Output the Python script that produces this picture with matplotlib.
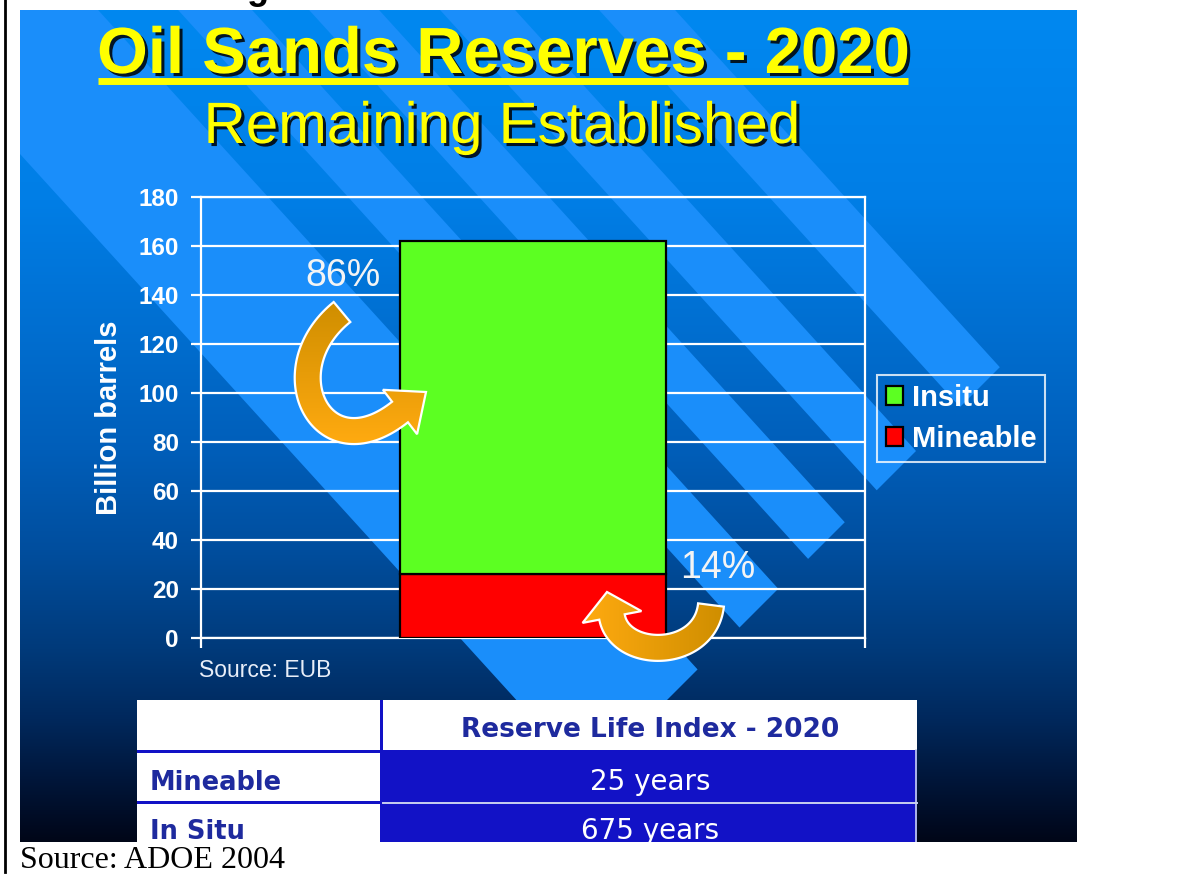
import numpy as np
import matplotlib
matplotlib.use("Agg")
import matplotlib.pyplot as plt
from matplotlib.patches import Polygon, Rectangle, Patch
from matplotlib.lines import Line2D
from matplotlib.colors import to_rgb
import matplotlib.patheffects as pe

# ---------------- data ----------------
category = ["2020"]
insitu = [136.0]          # billion barrels
mineable = [26.0]         # billion barrels
series_labels = ["Insitu", "Mineable"]
share_labels = ["86%", "14%"]
y_ticks = [0, 20, 40, 60, 80, 100, 120, 140, 160, 180]
table_title = "Reserve Life Index - 2020"
table_rows = ["Mineable", "In Situ"]
life_years = [25, 675]

# ---------------- canvas ----------------
W, H = 1182, 876
fig = plt.figure(figsize=(W / 100, H / 100), dpi=100, facecolor="white")
SANS = "Liberation Sans"
GREEN = "#5CFF22"
RED = "#FF0000"
YELLOW = "#FFFF00"


def frect(x0, y0, x1, y1):
    """Pixel box (top-left origin) -> figure fraction rect."""
    return [x0 / W, 1 - y1 / H, (x1 - x0) / W, (y1 - y0) / H]


# slide background, drawn in pixel coordinates
X0, Y0, X1, Y1 = 20, 10, 1077, 842
bg = fig.add_axes(frect(X0, Y0, X1, Y1))
bg.set_xlim(X0, X1)
bg.set_ylim(Y1, Y0)
bg.axis("off")

stops_y = [10, 200, 350, 450, 550, 650, 720, 780, 842]
stops_c = [(0, 136, 240), (0, 126, 230), (0, 108, 205), (0, 94, 185),
           (0, 78, 158), (0, 58, 122), (0, 40, 92), (0, 22, 58), (0, 6, 24)]
ys = np.linspace(Y0, Y1, 400)
grad = np.stack([np.interp(ys, stops_y, [c[i] for c in stops_c]) for i in range(3)],
                axis=-1) / 255.0
bg.imshow(grad[:, None, :], extent=(X0, X1, Y1, Y0), aspect="auto",
          interpolation="bilinear", zorder=0)

# diagonal light bands, all cut off along one perpendicular edge
K = 1.1
CUT = 1367
bands = [(-120, 89), (169, 243), (300, 370), (431, 506), (590, 666)]
for w1, w2 in bands:
    yc1 = (CUT - w1) / (1 + 1 / K)
    yc2 = (CUT - w2) / (1 + 1 / K)
    poly = [(w1, 0), (w2, 0), (w2 + yc2 / K, yc2), (w1 + yc1 / K, yc1)]
    bg.add_patch(Polygon(poly, closed=True, facecolor="#1A8EFA",
                         edgecolor="none", zorder=1))

# titles
shadow = [pe.withSimplePatchShadow(offset=(2.2, -2.2), shadow_rgbFace="black", alpha=0.85)]
bg.text(503, 73, "Oil Sands Reserves - 2020", ha="center", va="baseline",
        fontsize=47, fontweight="bold", color=YELLOW, family=SANS,
        path_effects=shadow, zorder=5)
bg.plot([98, 908], [80.5, 80.5], color=YELLOW, lw=5, solid_capstyle="butt",
        path_effects=shadow, zorder=5)
bg.text(502, 143, "Remaining Established", ha="center", va="baseline",
        fontsize=42, color=YELLOW, family=SANS, path_effects=shadow, zorder=5)
bg.text(199, 677, "Source: EUB", ha="left", va="baseline", fontsize=16.5,
        color="#E8EEF8", family=SANS, zorder=5)

# ---------------- table ----------------
TBL_BLUE = "#1212C6"
TXT_BLUE = "#1E2A9E"
bg.add_patch(Rectangle((137, 700), 780, 170, facecolor=TBL_BLUE, edgecolor="none", zorder=2))
bg.add_patch(Rectangle((137, 700), 243, 50, facecolor="white", edgecolor="none", zorder=3))
bg.add_patch(Rectangle((383, 700), 534, 50, facecolor="white", edgecolor="none", zorder=3))
row_tops = [753, 804]
row_h = [48, 70]
for top, hgt in zip(row_tops, row_h):
    bg.add_patch(Rectangle((137, top), 243, hgt, facecolor="white", edgecolor="none", zorder=3))
bg.plot([383, 917], [802.5, 802.5], color="#C8D0F0", lw=1.4, zorder=4)
bg.plot([916, 916], [750, 850], color="#C8D0F0", lw=1.2, zorder=4)

bg.text(650, 737, table_title, ha="center", va="baseline", fontsize=19,
        fontweight="bold", color=TXT_BLUE, family="DejaVu Sans", zorder=6)
baselines = [790, 839]
for name, yrs, base in zip(table_rows, life_years, baselines):
    a = bg.text(150, base, name, ha="left", va="baseline", fontsize=18.5,
                fontweight="bold", color=TXT_BLUE, family="DejaVu Sans", zorder=6)
    b = bg.text(650, base, f"{yrs} years", ha="center", va="baseline", fontsize=20,
                color="white", family="DejaVu Sans", zorder=6)
    a.set_clip_on(True)
    b.set_clip_on(True)

# ---------------- chart ----------------
ax = fig.add_axes(frect(201, 197, 865, 638))
ax.patch.set_visible(False)
ax.set_xlim(-0.5, 0.5)
ax.set_ylim(0, 180)
x = np.arange(len(category))
ax.bar(x, mineable, width=0.4, color=RED, edgecolor="black", linewidth=1.6, zorder=3)
ax.bar(x, insitu, width=0.4, bottom=mineable, color=GREEN, edgecolor="black",
       linewidth=1.6, zorder=3)

ax.set_yticks(y_ticks)
ax.set_yticklabels([str(v) for v in y_ticks])
ax.yaxis.grid(True, color="white", linewidth=1.6)
ax.set_axisbelow(True)
for s in ax.spines.values():
    s.set_color("white")
    s.set_linewidth(1.6)
ax.set_xticks([-0.5, 0.5])
ax.set_xticklabels(["", ""])
ax.tick_params(axis="x", colors="white", length=7.5, width=1.6, direction="out")
ax.tick_params(axis="y", colors="white", length=7, width=1.6, pad=9, labelsize=17.5)
for lab in ax.get_yticklabels():
    lab.set_fontweight("bold")
    lab.set_fontfamily(SANS)
ax.set_ylabel("Billion barrels", fontsize=21, fontweight="bold", color="white", family=SANS)
ax.yaxis.set_label_coords((123 - 201) / 664, 0.5)

# legend
handles = [Patch(facecolor=GREEN, edgecolor="black", linewidth=1.6, label=series_labels[0]),
           Patch(facecolor=RED, edgecolor="black", linewidth=1.6, label=series_labels[1])]
leg = fig.legend(handles=handles, loc="upper left", bbox_to_anchor=(877 / W, 1 - 375 / H),
                 bbox_transform=fig.transFigure, borderaxespad=0, frameon=True,
                 fancybox=False, edgecolor="white", facecolor="none",
                 prop=dict(family=SANS, weight="bold", size=21), labelcolor="white",
                 handlelength=0.6, handleheight=0.6, handletextpad=0.3,
                 borderpad=0.3, labelspacing=0.45)
leg.get_frame().set_linewidth(1.5)


# ---------------- curved callout arrows ----------------
def curved_arrow(p0, c1, c2, p3, tip, tail_px, head_px, dark, bright, vertical):
    """Thick cubic-bezier arrow (data-coordinate controls) with a two-tone fill."""
    T = ax.transData
    P = T.transform(np.array([p0, c1, c2, p3]))
    t = np.linspace(0, 1, 80)[:, None]
    pts = ((1 - t) ** 3 * P[0] + 3 * t * (1 - t) ** 2 * P[1]
           + 3 * t ** 2 * (1 - t) * P[2] + t ** 3 * P[3])
    tang = np.gradient(pts, axis=0)
    tang /= np.linalg.norm(tang, axis=1, keepdims=True)
    nrm = np.column_stack([-tang[:, 1], tang[:, 0]])
    left = pts + nrm * tail_px / 2
    right = pts - nrm * tail_px / 2
    tip_d = T.transform(np.array(tip))
    d = tip_d - pts[-1]
    d /= np.linalg.norm(d)
    nh = np.array([-d[1], d[0]])
    outline = np.vstack([left,
                         pts[-1] + nh * head_px / 2,
                         tip_d,
                         pts[-1] - nh * head_px / 2,
                         right[::-1]])
    outline_data = T.inverted().transform(outline)
    shape = Polygon(outline_data, closed=True, facecolor="none", edgecolor="white",
                    linewidth=1.6, zorder=7, clip_on=False)
    ax.add_patch(shape)
    c0, c1_ = np.array(to_rgb(dark)), np.array(to_rgb(bright))
    s = np.linspace(0, 1, 64)[:, None]
    ramp = c0 * (1 - s) + c1_ * s
    img = ramp[:, None, :] if vertical else ramp[None, ::-1, :]
    xmin, ymin = outline_data.min(axis=0)
    xmax, ymax = outline_data.max(axis=0)
    im = ax.imshow(img, extent=(xmin, xmax, ymin, ymax), aspect="auto",
                   interpolation="bilinear", zorder=6)
    im.set_clip_path(shape)
    im.set_clip_box(fig.bbox)


def to_data(px, py):
    return ((px - 201) / 664 - 0.5, (638 - py) / 2.45)


# 86% arrow: sweeps down the left and points into the in-situ block
curved_arrow(to_data(342, 312), to_data(270, 370), to_data(322, 474), to_data(400, 412),
             to_data(426, 392), 26, 56, "#CF8E00", "#FFAA10", vertical=True)
# 14% arrow: dips under the axis and points up into the mineable block
curved_arrow(to_data(711, 605), to_data(705, 660), to_data(620, 660), to_data(612, 617),
             to_data(607, 592), 26, 60, "#CF8E00", "#FFAA10", vertical=False)

ax.text(*to_data(343, 276), share_labels[0], ha="center", va="center", fontsize=27,
        color="#F4F4F4", family=SANS, zorder=8)
ax.text(*to_data(718, 568), share_labels[1], ha="center", va="center", fontsize=27,
        color="#F4F4F4", family=SANS, zorder=8)

ax.set_xlim(-0.5, 0.5)
ax.set_ylim(0, 180)

# ---------------- page furniture ----------------
fig.text(20 / W, 1 - 868 / H, "Source: ADOE 2004", ha="left", va="baseline",
         fontsize=23, color="black", family="Liberation Serif")
fig.add_artist(Line2D([5 / W, 5 / W], [1 - 872 / H, 1], color="black", lw=2,
                      transform=fig.transFigure))
fig.text(246 / W, 1 + 1.0 / H, "g", ha="left", va="baseline", fontsize=26,
         fontweight="bold", color="black", family=SANS)

fig.savefig("out.png", dpi=100, facecolor="white")
